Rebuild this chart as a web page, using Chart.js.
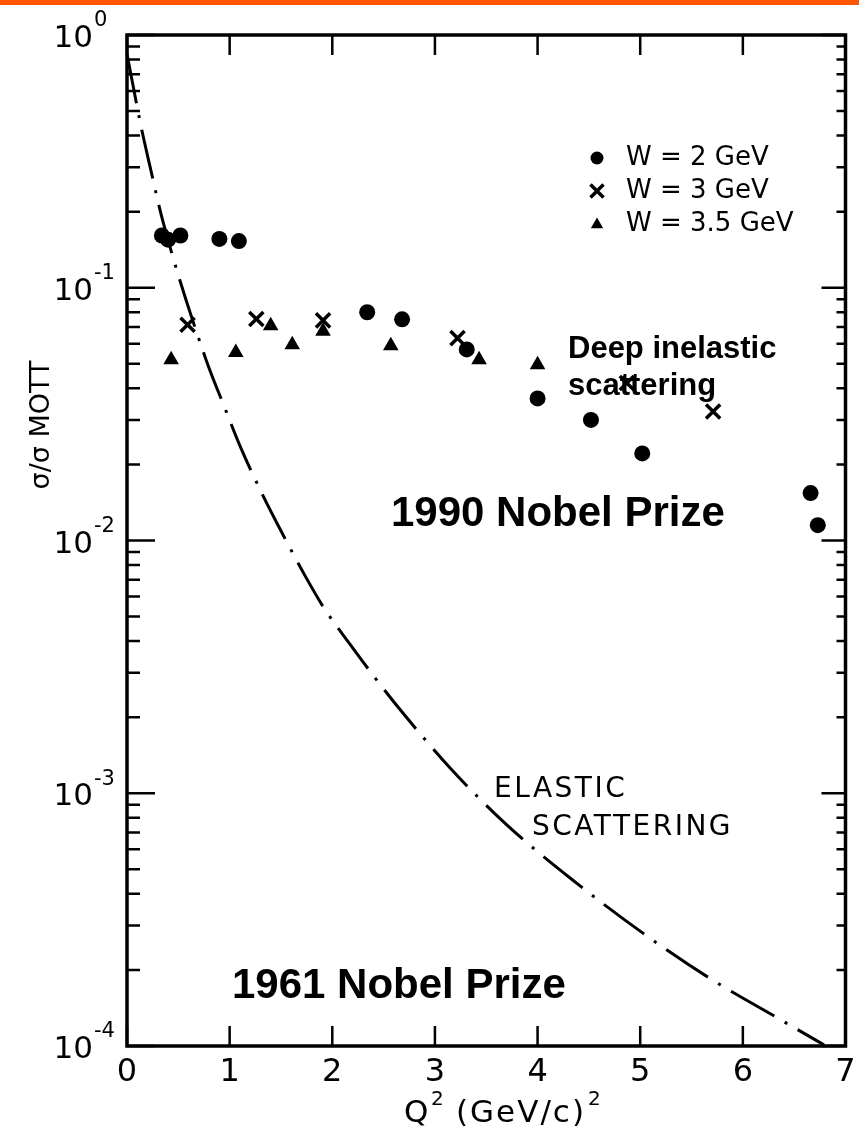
<!DOCTYPE html>
<html>
<head>
<meta charset="utf-8">
<script src="https://cdn.jsdelivr.net/npm/chart.js@4.4.1/dist/chart.umd.min.js"></script>
<style>
  html, body { margin: 0; padding: 0; background: #fff; }
  canvas { display: block; }
</style>
</head>
<body>
<canvas id="myChart" width="859" height="1131"></canvas>
<script>
// W = 2 GeV
var q2W2 = [0.34, 0.40, 0.52, 0.90, 1.09, 2.34, 2.68, 3.31, 4.00, 4.52, 5.02, 6.66, 6.73];
var ratioW2 = [0.161, 0.155, 0.161, 0.156, 0.153, 0.080, 0.075, 0.057, 0.0365, 0.030, 0.0221, 0.0154, 0.0115];

// W = 3 GeV
var q2W3 = [0.59, 1.26, 1.91, 3.22, 4.87, 5.71];
var ratioW3 = [0.0714, 0.0752, 0.0743, 0.0632, 0.0420, 0.0324];

// W = 3.5 GeV
var q2W35 = [0.43, 1.06, 1.40, 1.61, 1.91, 2.57, 3.43, 4.00];
var ratioW35 = [0.0519, 0.0555, 0.0707, 0.0595, 0.0673, 0.0590, 0.0519, 0.0496];

// elastic scattering curve
var q2Elastic = [0, 0.14, 0.22, 0.35, 0.77, 0.94, 1.11, 1.32, 1.52, 1.73, 1.92, 2.17, 2.42, 2.67, 3.15, 3.70, 4.32, 5.03, 5.68, 6.34, 6.79];
var ratioElastic = [0.84, 0.429, 0.307, 0.183, 0.0519, 0.0345, 0.0232, 0.0152, 0.01054, 0.00731, 0.0054, 0.00390, 0.00285, 0.00212, 0.001256, 0.00075, 0.000461, 0.000279, 0.000185, 0.000129, 0.000101];

var q2Ticks = [0, 1, 2, 3, 4, 5, 6, 7];
var decadeExps = [0, -1, -2, -3, -4];
var seriesLabels = ["W = 2 GeV", "W = 3 GeV", "W = 3.5 GeV"];

function toPoints(xs, ys) {
  return xs.map(function (v, i) { return { x: v, y: ys[i] }; });
}

var figFont = '"DejaVu Sans", sans-serif';
var boldFont = '"Liberation Sans", Arial, sans-serif';

function drawMarker(ctx, style, cx, cy, r) {
  ctx.beginPath();
  if (style === "circle") {
    ctx.arc(cx, cy, r, 0, Math.PI * 2);
    ctx.fill();
  } else if (style === "crossRot") {
    ctx.lineWidth = 3.5;
    ctx.moveTo(cx - r, cy - r); ctx.lineTo(cx + r, cy + r);
    ctx.moveTo(cx + r, cy - r); ctx.lineTo(cx - r, cy + r);
    ctx.stroke();
  } else {
    ctx.moveTo(cx, cy - r);
    ctx.lineTo(cx + r * 0.95, cy + r * 0.65);
    ctx.lineTo(cx - r * 0.95, cy + r * 0.65);
    ctx.closePath();
    ctx.fill();
  }
}

var figure = {
  id: "figure",
  afterDatasetsDraw: function (chart) {
    var ctx = chart.ctx;
    var a = chart.chartArea;
    var xs = chart.scales.x, ys = chart.scales.y;
    ctx.save();

    // orange strip along the top
    ctx.fillStyle = "#ff5500";
    ctx.fillRect(0, 0, chart.width, 5);

    // frame
    ctx.strokeStyle = "#000";
    ctx.lineWidth = 3.5;
    ctx.strokeRect(a.left, a.top, a.right - a.left, a.bottom - a.top);

    // inward ticks
    ctx.lineWidth = 2.5;
    ctx.beginPath();
    q2Ticks.forEach(function (v) {
      var px = xs.getPixelForValue(v);
      ctx.moveTo(px, a.bottom); ctx.lineTo(px, a.bottom - 20);
      ctx.moveTo(px, a.top); ctx.lineTo(px, a.top + 20);
    });
    decadeExps.forEach(function (e) {
      for (var m = 1; m < 10; m++) {
        var v = m * Math.pow(10, e);
        if (v > 1) break;
        var py = ys.getPixelForValue(v);
        var major = m === 1;
        ctx.moveTo(a.left, py); ctx.lineTo(a.left + (major ? 28 : 13), py);
        ctx.moveTo(a.right, py); ctx.lineTo(a.right - (major ? 24 : 9), py);
      }
    });
    ctx.stroke();

    // tick labels
    ctx.fillStyle = "#000";
    ctx.textBaseline = "middle";
    ctx.textAlign = "center";
    ctx.font = "32px " + figFont;
    q2Ticks.forEach(function (v) {
      ctx.fillText(String(v), xs.getPixelForValue(v), a.bottom + 27);
    });
    decadeExps.forEach(function (e) {
      var py = ys.getPixelForValue(Math.pow(10, e));
      ctx.font = "31px " + figFont;
      ctx.textAlign = "right";
      ctx.fillText("10", 93, py + 4);
      ctx.font = "21px " + figFont;
      ctx.textAlign = "left";
      ctx.fillText(e === 0 ? "0" : "-" + (-e), 94, py - 14);
    });

    // axis titles
    ctx.textBaseline = "alphabetic";
    ctx.textAlign = "left";
    ctx.font = "31px " + figFont;
    ctx.fillText("Q", 404, 1122);
    ctx.font = "20px " + figFont;
    ctx.fillText("2", 431, 1105);
    ctx.font = "31px " + figFont;
    ctx.letterSpacing = "2px";
    ctx.fillText("(GeV/c)", 456, 1122);
    ctx.letterSpacing = "0px";
    ctx.font = "20px " + figFont;
    ctx.fillText("2", 588, 1105);

    ctx.save();
    ctx.translate(42, 425);
    ctx.rotate(-Math.PI / 2);
    ctx.textAlign = "center";
    ctx.textBaseline = "middle";
    ctx.font = "27px " + figFont;
    ctx.fillText("\u03c3/\u03c3 MOTT", 0, 0);
    ctx.restore();

    // legend
    var styles = ["circle", "crossRot", "triangle"];
    ctx.font = "26px " + figFont;
    ctx.textBaseline = "middle";
    seriesLabels.forEach(function (lab, i) {
      var ly = 158 + i * 33;
      drawMarker(ctx, styles[i], 597, ly, 6.5);
      ctx.fillText(lab, 626, ly);
    });

    // curve label
    ctx.textBaseline = "alphabetic";
    ctx.font = "28px " + figFont;
    ctx.letterSpacing = "2.5px";
    ctx.fillText("ELASTIC", 494, 797);
    ctx.fillText("SCATTERING", 532, 835);
    ctx.letterSpacing = "0px";

    // overlay notes
    ctx.font = "bold 31px " + boldFont;
    ctx.fillText("Deep inelastic", 568, 358);
    ctx.fillText("scattering", 568, 395);
    ctx.font = "bold 42px " + boldFont;
    ctx.fillText("1990 Nobel Prize", 391, 526);
    ctx.fillText("1961 Nobel Prize", 232, 998);

    ctx.restore();
  }
};

var ctx = document.getElementById("myChart");

var myChart = new Chart(ctx, {
  type: "scatter",
  data: {
    datasets: [
      {
        label: "elastic",
        data: toPoints(q2Elastic, ratioElastic),
        showLine: true,
        cubicInterpolationMode: "monotone",
        borderColor: "#000",
        borderWidth: 3,
        borderDash: [50, 12, 3, 12],
        pointRadius: 0
      },
      {
        label: seriesLabels[0],
        data: toPoints(q2W2, ratioW2),
        pointStyle: "circle",
        pointRadius: 8,
        backgroundColor: "#000",
        borderColor: "#000",
        borderWidth: 0
      },
      {
        label: seriesLabels[1],
        data: toPoints(q2W3, ratioW3),
        pointStyle: "crossRot",
        pointRadius: 10,
        borderColor: "#000",
        borderWidth: 3.5
      },
      {
        label: seriesLabels[2],
        data: toPoints(q2W35, ratioW35),
        pointStyle: "triangle",
        pointRadius: 9,
        backgroundColor: "#000",
        borderColor: "#000",
        borderWidth: 0
      }
    ]
  },
  options: {
    responsive: false,
    animation: false,
    layout: { padding: { left: 127, right: 11, top: 35, bottom: 85 } },
    scales: {
      x: { type: "linear", min: 0, max: 7, display: false },
      y: { type: "logarithmic", min: 1e-4, max: 1, display: false }
    },
    plugins: {
      legend: { display: false },
      tooltip: { enabled: false }
    }
  },
  plugins: [figure]
});
</script>
</body>
</html>
